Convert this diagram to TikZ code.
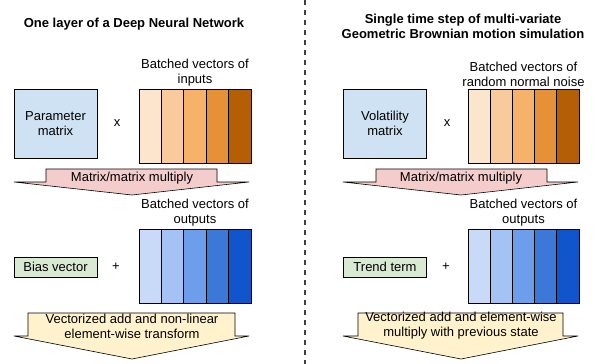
\documentclass[tikz,border=0pt]{standalone}
\usepackage{fontspec}
\setmainfont{Liberation Sans}
\usetikzlibrary{positioning}

\definecolor{matblue}{HTML}{CFE2F3}
\definecolor{termgreen}{HTML}{D9EAD3}
\definecolor{mulpink}{HTML}{F4CCCC}
\definecolor{addyellow}{HTML}{FFF2CC}
\definecolor{o1}{HTML}{FCE5CD}
\definecolor{o2}{HTML}{F9CB9C}
\definecolor{o3}{HTML}{F6B26B}
\definecolor{o4}{HTML}{E69138}
\definecolor{o5}{HTML}{B45F06}
\definecolor{b1}{HTML}{C9DAF8}
\definecolor{b2}{HTML}{A4C2F4}
\definecolor{b3}{HTML}{6D9EEB}
\definecolor{b4}{HTML}{3C78D8}
\definecolor{b5}{HTML}{1155CC}

\begin{document}
\begin{tikzpicture}[x=1pt,y=-1pt,font=\fontsize{13}{15}\selectfont]
	\tikzset{matbox/.style={draw,line width=0.8pt,fill=matblue,align=center,minimum width=83pt,minimum height=69pt}}
	\tikzset{termbox/.style={draw,line width=0.8pt,fill=termgreen,minimum width=83pt,minimum height=20pt,inner sep=0pt}}
	\tikzset{veccol/.style={draw,line width=0.8pt,minimum width=22.3pt,minimum height=74pt,inner sep=0pt}}
	\tikzset{blockarrow/.style={draw,line width=0.6pt,line join=miter}}
	\tikzset{caption/.style={align=center,inner sep=1pt}}
	\tikzset{heading/.style={align=center,font=\fontsize{13}{15}\selectfont\bfseries}}
	\useasboundingbox (0,0) rectangle (597,364);

	% separator
	\draw[line width=1.3pt,color=black!75,dash pattern=on 5pt off 5pt] (305,0) -- (305,364);

	% left panel: one DNN layer
	\node[heading] (titleL) at (134,24) {One layer of a Deep Neural Network};
	\node[matbox] (paramL) at (55.5,123.5) {Parameter\\matrix};
	\node (timesL) at (117,123) {x};
	\foreach \c [count=\i] in {o1,o2,o3,o4,o5}
		\node[veccol,fill=\c] (inL\i) at (139+\i*22.4-11.2,126) {};
	\node[caption,above=1pt of inL3] (inlabL) {Batched vectors of\\inputs};

	\draw[blockarrow,fill=mulpink] (46,169) -- (217,169) -- (217,182) -- (249,182) -- (132,195) -- (14,182) -- (46,182) -- cycle;
	\node (mulL) at (132,178) {Matrix/matrix multiply};

	\node[termbox] (biasL) at (55.5,267) {Bias vector};
	\node (plusL) at (116,267) {+};
	\foreach \c [count=\i] in {b1,b2,b3,b4,b5}
		\node[veccol,fill=\c] (outL\i) at (139+\i*22.4-11.2,266) {};
	\node[caption,above=1pt of outL3] (outlabL) {Batched vectors of\\outputs};

	\draw[blockarrow,fill=addyellow] (28,313) -- (235,313) -- (235,336) -- (249,336) -- (132,359) -- (14,336) -- (28,336) -- cycle;
	\node[caption] (addL) at (132,326) {Vectorized add and non-linear\\element-wise transform};

	% right panel: GBM time step
	\node[heading] (titleR) at (463,26.5) {Single time step of multi-variate\\Geometric Brownian motion simulation};
	\node[matbox] (volR) at (385,123.5) {Volatility\\matrix};
	\node (timesR) at (447,123) {x};
	\foreach \c [count=\i] in {o1,o2,o3,o4,o5}
		\node[veccol,fill=\c] (inR\i) at (468+\i*22.2-11.1,126) {};
	\node[caption,above=1pt of inR3] (inlabR) {Batched vectors of\\random normal noise};

	\draw[blockarrow,fill=mulpink] (376,169) -- (547,169) -- (547,182) -- (578,182) -- (461,195) -- (343,182) -- (376,182) -- cycle;
	\node (mulR) at (461,178) {Matrix/matrix multiply};

	\node[termbox] (trendR) at (385,267) {Trend term};
	\node (plusR) at (446,267) {+};
	\foreach \c [count=\i] in {b1,b2,b3,b4,b5}
		\node[veccol,fill=\c] (outR\i) at (468+\i*22.2-11.1,266) {};
	\node[caption,above=1pt of outR3] (outlabR) {Batched vectors of\\outputs};

	\draw[blockarrow,fill=addyellow] (358,313) -- (563,313) -- (563,336) -- (578,336) -- (461,359) -- (343,336) -- (358,336) -- cycle;
	\node[caption] (addR) at (461,326) {Vectorized add and element-wise\\multiply with previous state};
\end{tikzpicture}
\end{document}
